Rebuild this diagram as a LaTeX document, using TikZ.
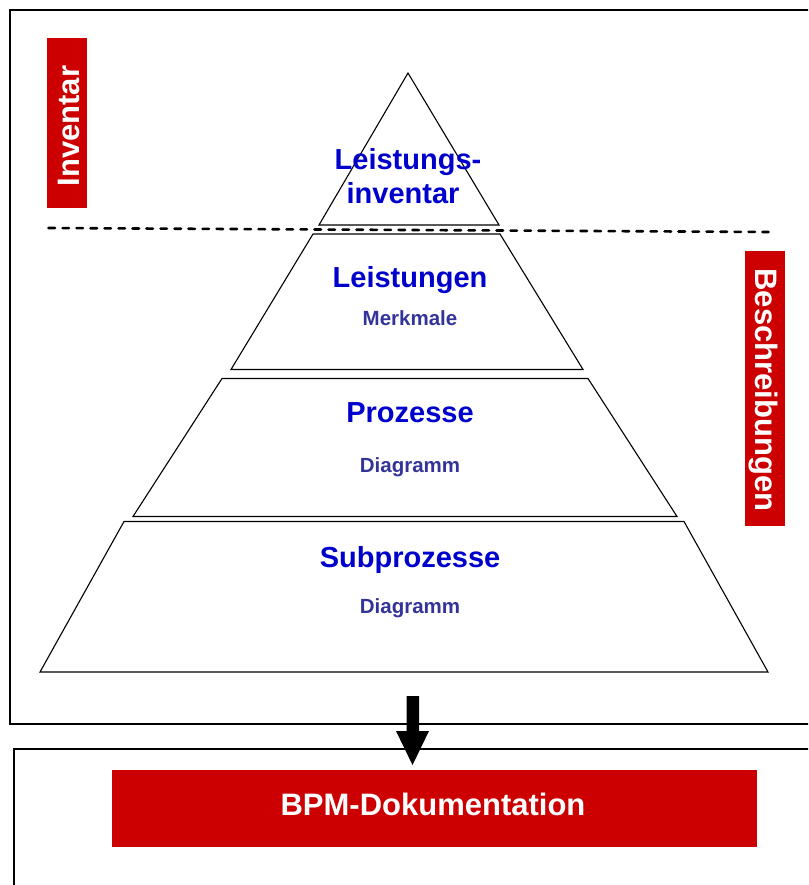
\documentclass[tikz,border=0pt]{standalone}
\usepackage{fontspec}
\setmainfont{Liberation Sans}
\definecolor{bpmred}{HTML}{CC0000}
\definecolor{titleblue}{HTML}{0000CC}
\definecolor{subblue}{HTML}{333399}
\begin{document}
\begin{tikzpicture}[x=1pt,y=-1pt,
  frame/.style={draw=black,line width=1.8pt},
  layer/.style={draw=black,line width=1.1pt,line join=miter},
  ttl/.style={text=titleblue,font=\fontsize{29}{31}\selectfont\bfseries,anchor=base,inner sep=0pt},
  sub/.style={text=subblue,font=\fontsize{20.5}{22}\selectfont\bfseries,anchor=base,inner sep=0pt},
  redbox/.style={fill=bpmred,draw=none,inner sep=0pt},
  redtxt/.style={text=white,font=\fontsize{31}{33}\selectfont\bfseries,inner sep=0pt}]
\useasboundingbox (0,0) rectangle (808,885);
\clip (0,0) rectangle (808,885);
% frames
\draw[frame] (10,10) rectangle (830,724);
\draw[black,line width=1.3pt] (14,749) rectangle (830,900);
% pyramid layers
\draw[layer] (408,73) -- (499,225) -- (319,225) -- cycle;
\draw[layer] (313,234) -- (500,234) -- (583,369.5) -- (231,369.5) -- cycle;
\draw[layer] (222,378.5) -- (588,378.5) -- (677,516.5) -- (133,516.5) -- cycle;
\draw[layer] (124,521.5) -- (684,521.5) -- (768,672) -- (40,672) -- cycle;
% dashed separator
\coordinate (dL) at (48.5,228);
\coordinate (dR) at (768.5,232);
\draw[black,line width=2.6pt,line cap=round,dash pattern=on 6.5pt off 7.5pt] (dL) -- (dR);
% texts
\node[ttl] (t1a) at (408,170) {Leistungs-};
\node[ttl] (t1b) at (403,204) {inventar};
\node[ttl] (t2) at (410,287) {Leistungen};
\node[sub] (s2) at (410,325.5) {Merkmale};
\node[ttl] (t3) at (410,422) {Prozesse};
\node[sub] (s3) at (410,472) {Diagramm};
\node[ttl] (t4) at (410,567) {Subprozesse};
\node[sub] (s4) at (410,613) {Diagramm};
% red side labels
\node[redbox,minimum width=170pt,minimum height=40pt,rotate=90] (inv) at (67,123) {};
\node[redtxt,rotate=90] (invt) at (69,126) {Inventar};
\node[redbox,minimum width=275pt,minimum height=40pt,rotate=-90] (bes) at (765,388.5) {};
\node[redtxt,rotate=-90] (best) at (763,390) {Beschreibungen};
% bottom box
\node[redbox,minimum width=645pt,minimum height=77pt] (bpm) at (434.5,808.5) {};
\node[redtxt,anchor=base] (bpmt) at (433,815) {BPM-Dokumentation};
% arrow
\fill[black] (406.5,696) -- (419,696) -- (419,731) -- (429,731) -- (412.5,765) -- (396,731) -- (406.5,731) -- cycle;
\end{tikzpicture}
\end{document}
